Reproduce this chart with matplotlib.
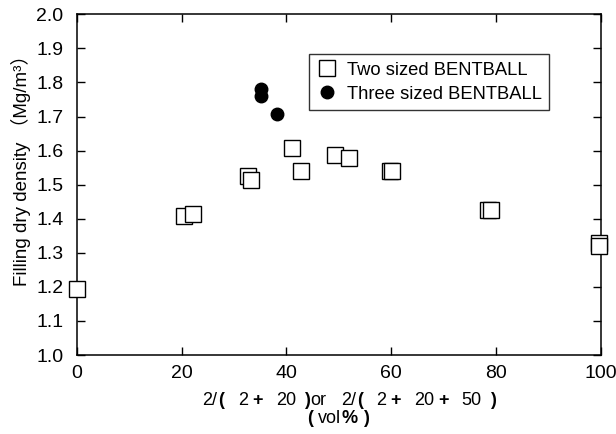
import matplotlib
matplotlib.use("Agg")
import matplotlib.pyplot as plt

# two sized BENTBALL
two_x = [0.0, 20.5, 22.2, 32.7, 33.3, 41.0, 42.7, 49.2, 51.9, 59.7, 60.1, 78.5, 79.0, 99.7, 99.7]
two_y = [1.195, 1.408, 1.413, 1.525, 1.515, 1.609, 1.540, 1.587, 1.578, 1.540, 1.540, 1.427, 1.427, 1.330, 1.320]

# three sized BENTBALL
three_x = [35.2, 35.2, 38.3]
three_y = [1.780, 1.759, 1.708]

x_ticks = [0, 20, 40, 60, 80, 100]
y_ticks = [1.0, 1.1, 1.2, 1.3, 1.4, 1.5, 1.6, 1.7, 1.8, 1.9, 2.0]

# x label pieces: (text, bold?, gap after in px)
xlab_line1 = [('2/', 0, 1), ('(', 1, 14), ('2', 0, 4), ('+', 1, 13), ('20', 0, 8), (')', 1, 1),
              ('or', 0, 14), ('2/', 0, 1), ('(', 1, 14), ('2', 0, 4), ('+', 1, 13),
              ('20', 0, 4), ('+', 1, 13), ('50', 0, 8), (')', 1, 0)]
xlab_line2 = [('(', 1, 5), ('vol', 0, 1), ('%', 1, 5), (')', 1, 0)]

plt.rcParams['font.family'] = ['Liberation Sans', 'Noto Sans CJK JP', 'DejaVu Sans']

W, H = 616, 434
fig = plt.figure(figsize=(W / 100, H / 100), dpi=100)
ax = fig.add_axes([0.1245, 0.182, 0.851, 0.785])

ax.plot(two_x, two_y, 's', ms=11.5, mfc='white', mec='black', mew=1.0,
        linestyle='none', label='Two sized BENTBALL', clip_on=False, zorder=3)
ax.plot(three_x, three_y, 'o', ms=9, mfc='black', mec='black',
        linestyle='none', label='Three sized BENTBALL', zorder=4)

ax.set_xlim(0, 100)
ax.set_ylim(1.0, 2.0)
ax.set_xticks(x_ticks)
ax.set_yticks(y_ticks)
ax.set_yticklabels(['%.1f' % v for v in y_ticks])
ax.tick_params(direction='in', top=True, right=True, length=6, width=1.0,
               labelsize=14)
ax.tick_params(axis='y', pad=9.5)
ax.tick_params(axis='x', pad=7.5)
for sp in ax.spines.values():
    sp.set_linewidth(1.1)

ax.set_ylabel('Filling dry density （Mg/m³）', fontsize=13.5)
ax.yaxis.set_label_coords(-0.087, 0.556)

renderer = fig.canvas.get_renderer()


def label_line(pieces, xc_px, base_px, size=13):
    # lay out the pieces left to right, then center the whole line on xc_px
    texts, widths = [], []
    for txt, bold, gap in pieces:
        t = fig.text(0, (H - base_px) / H, txt, fontsize=size, va='baseline', ha='left',
                     fontweight='bold' if bold else 'normal')
        texts.append(t)
        widths.append(t.get_window_extent(renderer).width)
    total = sum(widths) + sum(p[2] for p in pieces[:-1])
    x = xc_px - total / 2
    for t, w, p in zip(texts, widths, pieces):
        t.set_x(x / W)
        x += w + p[2]


label_line(xlab_line1, 349, 405)
label_line(xlab_line2, 338, 423)

leg = ax.legend(loc='upper left', bbox_to_anchor=(0.443, 0.883), fontsize=13.2,
                frameon=True, fancybox=False, edgecolor='black',
                handletextpad=0.45, borderpad=0.4, labelspacing=0.4,
                handlelength=1.2, borderaxespad=0)
leg.get_frame().set_linewidth(1.0)
leg.legend_handles[0].set_markersize(11)

fig.savefig('out.png', dpi=100)
